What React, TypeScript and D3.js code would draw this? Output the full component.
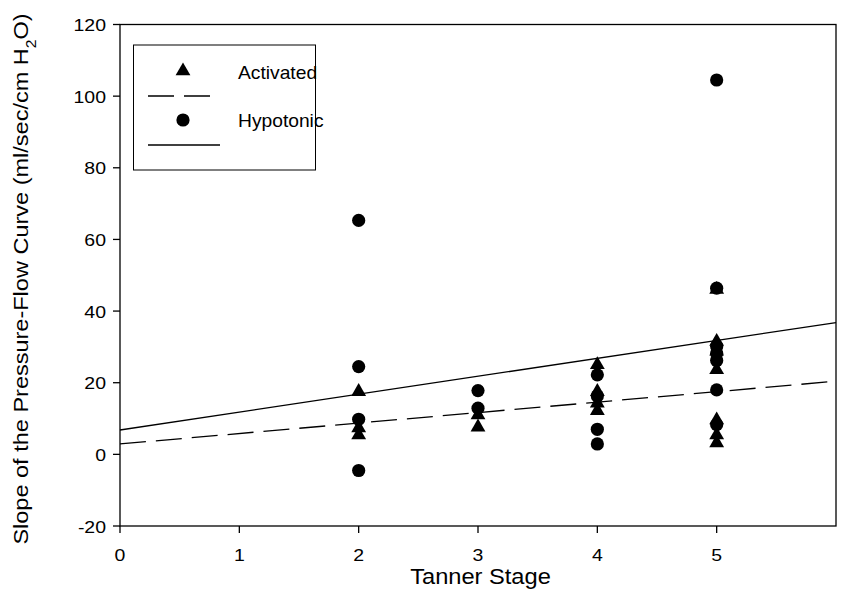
import React from 'react'
import * as d3 from 'd3'

// Tanner stage vs slope values
const activatedStage = [2, 2, 2, 3, 3, 4, 4, 4, 4, 5, 5, 5, 5, 5, 5, 5]
const activatedSlope = [17.5, 7.4, 5.4, 11, 7.6, 25, 17.5, 14.3, 12.2, 46, 31.5, 28.8, 23.6, 9.6, 5.4, 3.2]

const hypotonicStage = [2, 2, 2, 2, 3, 3, 4, 4, 4, 4, 5, 5, 5, 5, 5, 5, 5]
const hypotonicSlope = [65.3, 24.5, 9.8, -4.5, 17.8, 12.9, 22.2, 16.3, 7, 2.9, 104.5, 46.4, 30.1, 28.2, 26.2, 18, 8.3]

// fitted lines: [intercept, slope]
const activatedFit = [2.9, 2.92]
const hypotonicFit = [6.8, 5.0]

const xTicks = [0, 1, 2, 3, 4, 5]
const yTicks = [-20, 0, 20, 40, 60, 80, 100, 120]

const W = 841
const H = 592
const left = 120
const right = 836
const top = 24.5
const bottom = 526

const font = 'Liberation Sans, Arial, sans-serif'

// the original text is a bit wider than plain Arial
const Label = ({ x, y, anchor = 'start', size, sx, children }: any) => (
  <text transform={`translate(${x}, ${y}) scale(${sx}, 1)`} textAnchor={anchor}
    fontFamily={font} fontSize={size} fill="#000">
    {children}
  </text>
)

const App = () => {
  const x = d3.scaleLinear().domain([0, 6]).range([left, right])
  const y = d3.scaleLinear().domain([-20, 120]).range([bottom, top])

  const tri = d3.symbol().type(d3.symbolTriangle).size(95)
  const fitLine = (f: number[]) =>
    d3.line<number>()
      .x(d => x(d))
      .y(d => y(f[0] + f[1] * d))([0, 6]) as string

  return (
    <svg width={W} height={H} style={{ display: 'block', position: 'absolute', left: 0, top: 0 }}>
      <rect width={W} height={H} fill="#fff" />

      {/* frame */}
      <rect x={left} y={top} width={right - left} height={bottom - top}
        fill="none" stroke="#000" strokeWidth={1.3} />

      {/* y axis */}
      {yTicks.map(t => (
        <g key={'y' + t}>
          <line x1={left - 7} x2={left} y1={y(t)} y2={y(t)} stroke="#000" strokeWidth={1.3} />
          <Label x={106} y={y(t) + 6.5} anchor="end" size={16.5} sx={1.18}>{t}</Label>
        </g>
      ))}

      {/* x axis */}
      {xTicks.map(t => (
        <g key={'x' + t}>
          <line x1={x(t)} x2={x(t)} y1={bottom} y2={bottom + 7} stroke="#000" strokeWidth={1.3} />
          <Label x={x(t)} y={561} anchor="middle" size={16.5} sx={1.18}>{t}</Label>
        </g>
      ))}

      <Label x={480.5} y={584} anchor="middle" size={21.5} sx={1.1}>Tanner Stage</Label>

      <text transform={`translate(28, 279) rotate(-90) scale(1.12, 1)`} textAnchor="middle"
        fontFamily={font} fontSize={21}>
        Slope of the Pressure-Flow Curve (ml/sec/cm H<tspan baselineShift="sub" fontSize={14}>2</tspan>O)
      </text>

      {/* fitted lines */}
      <path d={fitLine(activatedFit)} fill="none" stroke="#000" strokeWidth={1.3} strokeDasharray="26,10" />
      <path d={fitLine(hypotonicFit)} fill="none" stroke="#000" strokeWidth={1.3} />

      {/* points */}
      {hypotonicStage.map((s, i) => (
        <circle key={'h' + i} cx={x(s)} cy={y(hypotonicSlope[i])} r={6.6} fill="#000" />
      ))}
      {activatedStage.map((s, i) => (
        <path key={'a' + i} d={tri() as string}
          transform={`translate(${x(s)}, ${y(activatedSlope[i])})`} fill="#000" />
      ))}

      {/* legend */}
      <rect x={133.5} y={45} width={182} height={125} fill="#fff" stroke="#000" strokeWidth={1} />
      <path d={tri() as string} transform="translate(183, 71)" fill="#000" />
      <Label x={238} y={79} size={17.5} sx={1.1}>Activated</Label>
      <line x1={148} x2={210} y1={96} y2={96} stroke="#000" strokeWidth={1.3} strokeDasharray="26,10" />
      <circle cx={183} cy={120} r={6.6} fill="#000" />
      <Label x={238} y={127} size={17.5} sx={1.1}>Hypotonic</Label>
      <line x1={148} x2={220} y1={145} y2={145} stroke="#000" strokeWidth={1.3} />
    </svg>
  )
}

export default App
